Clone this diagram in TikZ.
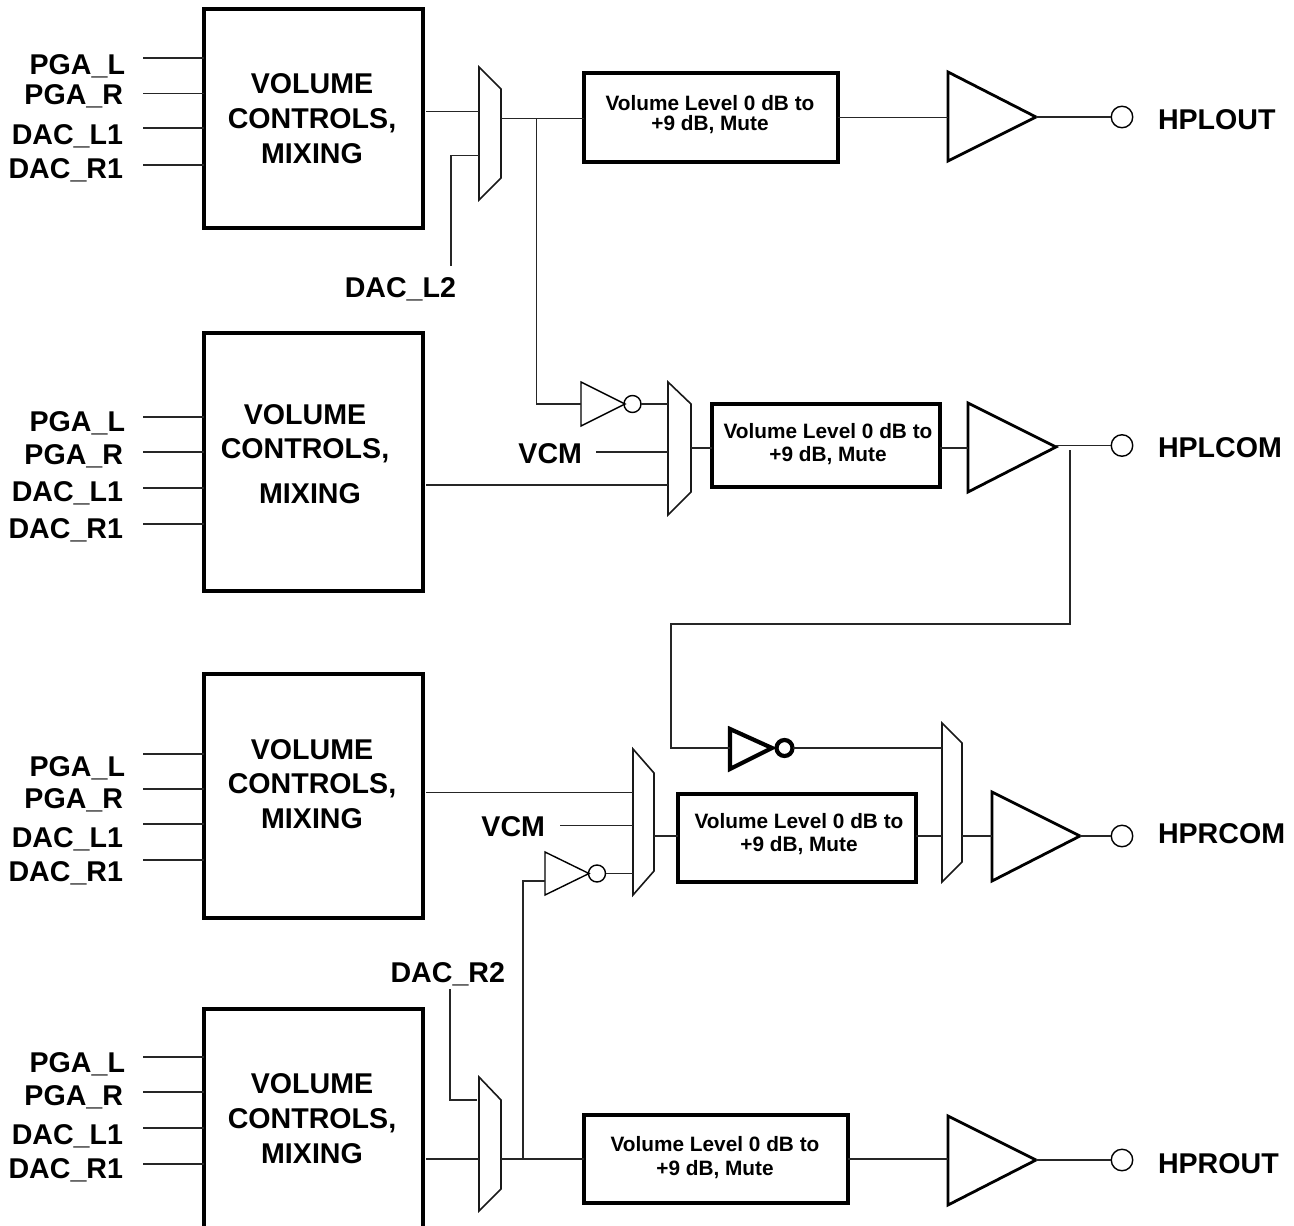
\documentclass[tikz,border=0pt]{standalone}
\usepackage{fontspec}
\setmainfont{Liberation Sans}
\newcommand\bigtxt{\fontsize{28.6}{29}\selectfont\bfseries}
\newcommand\smalltxt{\fontsize{20.8}{21}\selectfont\bfseries}
% polygon helpers: each defines named ports
\newcommand\muxshape[7]{% name, xl, xr, ytl, ytr, ybr, ybl
  \draw[muxline] (#2,#4) coordinate (#1tl) -- (#3,#5) coordinate (#1tr) -- (#3,#6) coordinate (#1br) -- (#2,#7) coordinate (#1bl) -- cycle;}
\newcommand\triangleshape[6]{% style, name, xl, ytop, ybot, tip(x,y)
  \draw[#1] (#3,#4) coordinate (#2t) -- (#6) coordinate (#2tip) -- (#3,#5) coordinate (#2b) -- cycle;}
\tikzset{
  wire/.style={line width=1.5pt,line cap=butt,line join=miter,black!85},
  muxline/.style={line width=1.6pt,line join=miter,black!90},
  ampline/.style={line width=2.8pt,line join=miter},
  invline/.style={line width=1.4pt,line join=miter},
  invthick/.style={line width=4.2pt,line join=miter},
  blockbox/.style={draw,line width=4pt,inner sep=0pt,outer sep=0pt},
  levelbox/.style={draw,line width=3.6pt,inner sep=0pt,outer sep=0pt},
  outring/.style={circle,draw,line width=1.4pt,inner sep=0pt,outer sep=0pt,minimum size=21.5pt},
  bubble/.style={circle,draw,line width=1.4pt,inner sep=0pt,outer sep=0pt,minimum size=17pt},
  bubblethick/.style={circle,draw,line width=4.2pt,inner sep=0pt,outer sep=0pt,minimum size=16pt},
  lab/.style={font=\bigtxt,anchor=base east,inner sep=0pt,outer sep=0pt},
  ctr/.style={font=\bigtxt,anchor=base,inner sep=0pt,outer sep=0pt},
  outlab/.style={font=\bigtxt,anchor=base west,inner sep=0pt,outer sep=0pt},
  lvl/.style={font=\smalltxt,anchor=base,inner sep=0pt,outer sep=0pt},
}
\begin{document}
\begin{tikzpicture}[x=1pt,y=-1pt]
\path[use as bounding box] (0,0) rectangle (1294,1226);
\clip (0,0) rectangle (1294,1226);
% ---- volume blocks
\node[blockbox,minimum width=219pt,minimum height=219pt] (b1) at (313.5,118.5) {};
\node[blockbox,minimum width=219pt,minimum height=258pt] (b2) at (313.5,462) {};
\node[blockbox,minimum width=219pt,minimum height=244pt] (b3) at (313.5,796) {};
\node[blockbox,minimum width=219pt,minimum height=224pt] (b4) at (313.5,1121) {};
\node[ctr] (b1t1) at (312,93) {VOLUME};
\node[ctr] (b1t2) at (312,128) {CONTROLS,};
\node[ctr] (b1t3) at (312,163) {MIXING};
\node[ctr] (b2t1) at (305,424) {VOLUME};
\node[ctr] (b2t2) at (305,458) {CONTROLS,};
\node[ctr] (b2t3) at (310,503) {MIXING};
\node[ctr] (b3t1) at (312,759) {VOLUME};
\node[ctr] (b3t2) at (312,793) {CONTROLS,};
\node[ctr] (b3t3) at (312,828) {MIXING};
\node[ctr] (b4t1) at (312,1093) {VOLUME};
\node[ctr] (b4t2) at (312,1128) {CONTROLS,};
\node[ctr] (b4t3) at (312,1163) {MIXING};
% ---- input labels
\node[lab] (l1a) at (125,74) {PGA\_L};
\node[lab] (l1b) at (123,104) {PGA\_R};
\node[lab] (l1c) at (123,144) {DAC\_L1};
\node[lab] (l1d) at (123,178) {DAC\_R1};
\node[lab] (l2a) at (125,431) {PGA\_L};
\node[lab] (l2b) at (123,464) {PGA\_R};
\node[lab] (l2c) at (123,501) {DAC\_L1};
\node[lab] (l2d) at (123,538) {DAC\_R1};
\node[lab] (l3a) at (125,776) {PGA\_L};
\node[lab] (l3b) at (123,808) {PGA\_R};
\node[lab] (l3c) at (123,847) {DAC\_L1};
\node[lab] (l3d) at (123,881) {DAC\_R1};
\node[lab] (l4a) at (125,1072) {PGA\_L};
\node[lab] (l4b) at (123,1105) {PGA\_R};
\node[lab] (l4c) at (123,1144) {DAC\_L1};
\node[lab] (l4d) at (123,1178) {DAC\_R1};
\node[lab] (dl2) at (456,297) {DAC\_L2};
\node[lab] (dr2) at (505,982) {DAC\_R2};
\node[lab] (vcm1) at (582,463) {VCM};
\node[lab] (vcm2) at (545,836) {VCM};
% ---- input wires
\foreach \n/\ya/\yb/\yc/\yd in {1/58/93.5/128/165,2/417/452/488/524,3/754/789/824/860,4/1057/1092/1128/1164}{
  \foreach \y in {\ya,\yb,\yc,\yd}{
    \coordinate (in) at (143,\y);
    \draw[wire] (in) -- (in -| b\n.west);
  }
}
% ---- muxes
\muxshape{m1}{479}{501}{67}{89}{178}{200}
\muxshape{m2}{668}{691}{382}{404}{492}{515}
\muxshape{m3}{633}{654}{749}{773}{871}{895}
\muxshape{m4}{942}{962}{723}{743}{862}{882}
\muxshape{m5}{479}{501}{1077}{1100}{1189}{1211}
% ---- level boxes
\node[levelbox,minimum width=254pt,minimum height=89pt] (v1) at (711,117.5) {};
\node[levelbox,minimum width=228pt,minimum height=83pt] (v2) at (826,445.5) {};
\node[levelbox,minimum width=238.5pt,minimum height=88pt] (v3) at (797,838) {};
\node[levelbox,minimum width=264pt,minimum height=88pt] (v4) at (716,1159) {};
\node[lvl] (v1a) at (710,110) {Volume Level 0 dB to};
\node[lvl] (v1b) at (710,130) {+9 dB, Mute};
\node[lvl] (v2a) at (828,438) {Volume Level 0 dB to};
\node[lvl] (v2b) at (828,461) {+9 dB, Mute};
\node[lvl] (v3a) at (799,828) {Volume Level 0 dB to};
\node[lvl] (v3b) at (799,851) {+9 dB, Mute};
\node[lvl] (v4a) at (715,1151) {Volume Level 0 dB to};
\node[lvl] (v4b) at (715,1175) {+9 dB, Mute};
% ---- amplifiers
\triangleshape{ampline}{a1}{948}{72}{161}{1036,117}
\triangleshape{ampline}{a2}{968}{403}{492}{1056,447}
\triangleshape{ampline}{a3}{992}{792}{881}{1080,836}
\triangleshape{ampline}{a4}{948}{1116}{1205}{1036,1160}
% ---- inverters
\triangleshape{invline}{i1}{581}{382}{426}{625,404}
\node[bubble] (ib1) at (632.5,404) {};
\triangleshape{invthick}{i3}{730}{729}{769}{772,748}
\node[bubblethick] (ib3) at (784.5,748) {};
\triangleshape{invline}{i2}{545}{852}{895}{589,873.5}
\node[bubble] (ib2) at (597,873.5) {};
% ---- output rings and labels
\node[outring] (o1) at (1122,117) {};
\node[outring] (o2) at (1122,445.5) {};
\node[outring] (o3) at (1122,836) {};
\node[outring] (o4) at (1122,1160) {};
\node[outlab] (ol1) at (1158,129) {HPLOUT};
\node[outlab] (ol2) at (1158,457) {HPLCOM};
\node[outlab] (ol3) at (1158,843.5) {HPRCOM};
\node[outlab] (ol4) at (1158,1173) {HPROUT};
% ---- channel 1 wires
\coordinate (b1o) at (426,111.5);
\draw[wire] (b1o) -- (b1o -| m1tl);
\coordinate (m1o) at (501,118.5);
\draw[wire] (m1o) -- (m1o -| v1.west);
\coordinate (dl2w) at (451,266);
\coordinate (m1c) at (479,155.5);
\draw[wire] (dl2w) |- (m1c);
\draw[wire] (v1.east) -- (a1t |- v1.east);
\draw[wire] (a1tip) -- (o1.west);
\coordinate (tap1) at (536.5,118.5);
\draw[wire] (tap1) |- (i1t |- ib1);
% ---- channel 2 wires
\draw[wire] (ib1.east) -- (ib1.east -| m2tl);
\coordinate (vw1) at (596,452);
\draw[wire] (vw1) -- (vw1 -| m2tl);
\coordinate (b2o) at (426,485);
\draw[wire] (b2o) -- (b2o -| m2tl);
\coordinate (m2o) at (691,448);
\draw[wire] (m2o) -- (m2o -| v2.west);
\draw[wire] (v2.east |- m2o) -- (a2t |- m2o);
\draw[wire] (a2tip |- o2.west) -- (o2.west);
\coordinate (fb) at (1070,450);
\coordinate (fbc) at (671,624);
\draw[wire] (fb) -- (fb |- fbc) -- (fbc) -- (fbc |- i3tip) -- (i3t |- i3tip);
% ---- channel 3 wires
\draw[wire,line width=2pt] (ib3.east) -- (ib3.east -| m4tl);
\coordinate (b3o) at (426,792.5);
\draw[wire] (b3o) -- (b3o -| m3tl);
\coordinate (vw2) at (560,825.5);
\draw[wire] (vw2) -- (vw2 -| m3tl);
\draw[wire] (ib2.east) -- (ib2.east -| m3tl);
\coordinate (m3o) at (654,836);
\draw[wire] (m3o) -- (m3o -| v3.west);
\draw[wire] (v3.east |- m3o) -- (m3o -| m4tl);
\coordinate (m4o) at (962,836);
\draw[wire] (m4o) -- (m4o -| a3t);
\draw[wire] (a3tip) -- (o3.west);
% ---- channel 4 wires
\coordinate (b4o) at (426,1159);
\draw[wire] (b4o) -- (b4o -| m5tl);
\coordinate (m5o) at (501,1159);
\draw[wire] (m5o) -- (v4.west);
\coordinate (drw) at (450,989);
\coordinate (m5c) at (477,1100);
\draw[wire] (drw) |- (m5c);
\draw[wire] (v4.east) -- (v4.east -| a4t);
\draw[wire] (a4tip) -- (o4.west);
\coordinate (tap4) at (523,1159);
\coordinate (i2in) at (545,881);
\draw[wire,line width=1.8pt] (tap4) |- (i2in);
\end{tikzpicture}
\end{document}
